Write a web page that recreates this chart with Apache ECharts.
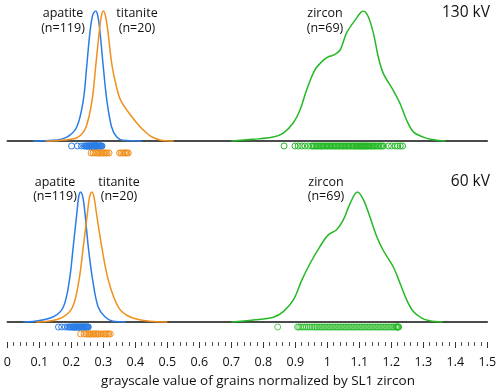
<!DOCTYPE html>
<html>
<head>
<meta charset="utf-8">
<script src="https://cdn.jsdelivr.net/npm/echarts@6/dist/echarts.min.js"></script>
<style>
  html, body { margin: 0; padding: 0; background: #fff; }
  #chart { width: 500px; height: 392px; }
</style>
</head>
<body>
<div id="chart"></div>
<script>
// density curves, [value, relative density]
var apatite130 = [[0.08,0],[0.143,0.005],[0.186,0.03],[0.217,0.108],[0.2375,0.315],[0.248,0.57],[0.258,0.83],[0.267,0.97],[0.276,1],[0.283,0.96],[0.290,0.83],[0.300,0.57],[0.311,0.315],[0.326,0.108],[0.342,0.03],[0.362,0.005],[0.42,0]];
var titanite130 = [[0.12,0],[0.18,0.008],[0.221,0.03],[0.246,0.108],[0.265,0.315],[0.276,0.57],[0.287,0.83],[0.294,0.96],[0.300,1],[0.307,0.96],[0.315,0.83],[0.321,0.70],[0.328,0.57],[0.339,0.44],[0.354,0.315],[0.389,0.187],[0.415,0.11],[0.436,0.06],[0.451,0.033],[0.477,0.008],[0.52,0]];
var zircon130 = [[0.70,0],[0.769,0.013],[0.831,0.03],[0.8625,0.06],[0.894,0.14],[0.915,0.24],[0.935,0.39],[0.961,0.546],[0.987,0.62],[1.005,0.65],[1.019,0.66],[1.04,0.70],[1.06,0.83],[1.087,0.93],[1.1125,1.0],[1.128,0.956],[1.144,0.83],[1.159,0.65],[1.175,0.52],[1.206,0.39],[1.227,0.29],[1.248,0.16],[1.269,0.07],[1.30,0.03],[1.331,0.01],[1.37,0]];

var apatite60 = [[0.05,0],[0.08,0.003],[0.144,0.04],[0.175,0.115],[0.194,0.32],[0.206,0.58],[0.217,0.83],[0.223,0.96],[0.229,1],[0.236,0.96],[0.243,0.83],[0.253,0.58],[0.267,0.32],[0.284,0.115],[0.305,0.04],[0.33,0.005],[0.37,0]];
var titanite60 = [[0.09,0],[0.127,0.005],[0.175,0.04],[0.204,0.115],[0.224,0.32],[0.2375,0.58],[0.25,0.83],[0.257,0.96],[0.264,1],[0.271,0.96],[0.279,0.83],[0.295,0.58],[0.316,0.32],[0.347,0.115],[0.383,0.04],[0.446,0.005],[0.50,0]];
var zircon60 = [[0.70,0],[0.769,0.015],[0.831,0.036],[0.8625,0.08],[0.894,0.17],[0.92,0.32],[0.946,0.45],[0.977,0.58],[1.003,0.67],[1.029,0.71],[1.05,0.785],[1.071,0.91],[1.094,1.0],[1.113,0.94],[1.133,0.81],[1.154,0.66],[1.175,0.55],[1.206,0.425],[1.227,0.30],[1.248,0.17],[1.269,0.08],[1.295,0.03],[1.32,0.01],[1.36,0]];

// single grain values (rug dots)
var apatiteDots130 = [0.201,0.219,0.232,0.240,0.244,0.247,0.250,0.252,0.254,0.256,0.258,0.260,0.261,0.262,0.264,0.265,0.266,0.268,0.269,0.270,0.271,0.272,0.273,0.274,0.275,0.276,0.277,0.278,0.279,0.280,0.281,0.282,0.284,0.286,0.288,0.290,0.292,0.294,0.296];
var titaniteDots130 = [0.262,0.268,0.274,0.279,0.284,0.288,0.292,0.296,0.300,0.304,0.308,0.312,0.318,0.351,0.356,0.361,0.366,0.370,0.374,0.378];
var zirconDots130 = [0.865,0.899,0.909,0.920,0.930,0.941,0.951,0.956,0.960,0.965,0.969,0.973,0.978,0.982,0.986,0.990,0.995,0.999,1.003,1.008,1.012,1.016,1.021,1.025,1.029,1.034,1.038,1.043,1.047,1.051,1.055,1.060,1.064,1.068,1.073,1.077,1.081,1.085,1.089,1.093,1.096,1.100,1.103,1.106,1.109,1.112,1.115,1.118,1.121,1.124,1.127,1.131,1.135,1.139,1.143,1.147,1.151,1.156,1.161,1.166,1.170,1.175,1.191,1.201,1.212,1.220,1.228,1.235];
var apatiteDots60 = [0.160,0.170,0.181,0.189,0.193,0.197,0.200,0.203,0.206,0.208,0.210,0.212,0.214,0.216,0.218,0.220,0.222,0.224,0.226,0.228,0.230,0.232,0.234,0.236,0.238,0.240,0.242,0.244,0.246,0.248,0.250,0.252,0.253];
var titaniteDots60 = [0.229,0.240,0.246,0.251,0.255,0.259,0.263,0.267,0.271,0.275,0.279,0.283,0.287,0.293,0.300,0.305,0.309,0.313,0.317,0.322];
var zirconDots60 = [0.845,0.907,0.911,0.917,0.923,0.929,0.935,0.941,0.946,0.952,0.958,0.963,0.968,0.973,0.978,0.983,0.988,0.993,0.998,1.003,1.008,1.013,1.018,1.023,1.028,1.033,1.038,1.043,1.048,1.053,1.058,1.063,1.068,1.073,1.078,1.083,1.088,1.093,1.098,1.103,1.108,1.113,1.118,1.123,1.128,1.133,1.138,1.143,1.148,1.153,1.158,1.163,1.168,1.173,1.178,1.183,1.188,1.193,1.198,1.203,1.208,1.213,1.216,1.218,1.220,1.221,1.222,1.223];

var panelLabels = ['130 kV', '60 kV'];
var tickMin = 0, tickMax = 1.5, tickStep = 0.1;

var BLUE = '#2b7de6', ORANGE = '#f0901e', GREEN = '#25b825';
var FONT = '"Open Sans", "Noto Sans", sans-serif';

function curve(data, color, idx) {
  return {
    type: 'line', xAxisIndex: idx, yAxisIndex: idx, data: data,
    smooth: 0.35, showSymbol: false, symbol: 'none',
    lineStyle: { color: color, width: 1.5 }, z: 3
  };
}
function dots(vals, yv, color, idx, op) {
  return {
    type: 'scatter', xAxisIndex: idx, yAxisIndex: idx,
    data: vals.map(function (v) { return [v, yv]; }),
    symbol: 'circle', symbolSize: 6,
    itemStyle: { color: 'rgba(0,0,0,0)', borderColor: color, borderWidth: 1, opacity: op || 1 },
    z: 4
  };
}
function panelX(idx) {
  return {
    type: 'value', gridIndex: idx, min: tickMin, max: tickMax,
    axisLine: { show: true, onZero: true, lineStyle: { color: '#111', width: 1.5 } },
    axisTick: { show: false }, axisLabel: { show: false }, splitLine: { show: false }
  };
}
function panelY(idx) {
  return { type: 'value', gridIndex: idx, min: -0.1, max: 1, show: false, splitLine: { show: false } };
}
function txt(s, x, y, size, align) {
  return {
    type: 'text', x: x, y: y,
    style: { text: s, fill: '#111', font: size + 'px ' + FONT, textAlign: align || 'center', textVerticalAlign: 'middle' }
  };
}

var chart = echarts.init(document.getElementById('chart'));
chart.setOption({
  animation: false,
  grid: [
    { left: 7.3, width: 480, top: 11, height: 143 },
    { left: 7.3, width: 480, top: 192, height: 143 },
    { left: 7.3, width: 480, top: 330, height: 12 }
  ],
  xAxis: [
    panelX(0), panelX(1),
    {
      type: 'value', gridIndex: 2, min: tickMin, max: tickMax, interval: tickStep,
      axisLine: { show: false },
      axisTick: { show: true, length: 6, lineStyle: { color: '#333', width: 1 } },
      minorTick: { show: true, splitNumber: 5, length: 4, lineStyle: { color: '#555', width: 1 } },
      axisLabel: { margin: 14, fontSize: 12.5, color: '#111', fontFamily: FONT },
      splitLine: { show: false }
    }
  ],
  yAxis: [panelY(0), panelY(1), { type: 'value', gridIndex: 2, show: false }],
  series: [
    curve(apatite130, BLUE, 0), curve(titanite130, ORANGE, 0), curve(zircon130, GREEN, 0),
    dots(apatiteDots130, -0.0385, BLUE, 0), dots(titaniteDots130, -0.092, ORANGE, 0), dots(zirconDots130, -0.0385, GREEN, 0),
    curve(apatite60, BLUE, 1), curve(titanite60, ORANGE, 1), curve(zircon60, GREEN, 1),
    dots(apatiteDots60, -0.0385, BLUE, 1), dots(titaniteDots60, -0.092, ORANGE, 1), dots(zirconDots60, -0.0385, GREEN, 1, 0.75)
  ],
  graphic: [
    txt('apatite', 63, 13, 12.5), txt('(n=119)', 63, 28, 12.5),
    txt('titanite', 137, 13, 12.5), txt('(n=20)', 137, 28, 12.5),
    txt('zircon', 325, 13, 12.5), txt('(n=69)', 325, 28, 12.5),
    txt(panelLabels[0], 490, 13, 15.5, 'right'),
    txt('apatite', 55, 182, 12.5), txt('(n=119)', 55, 196, 12.5),
    txt('titanite', 119, 182, 12.5), txt('(n=20)', 119, 196, 12.5),
    txt('zircon', 326, 182, 12.5), txt('(n=69)', 326, 196, 12.5),
    txt(panelLabels[1], 490, 182, 15.5, 'right'),
    txt('grayscale value of grains normalized by SL1 zircon', 258, 381, 13.5)
  ]
});
</script>
</body>
</html>
